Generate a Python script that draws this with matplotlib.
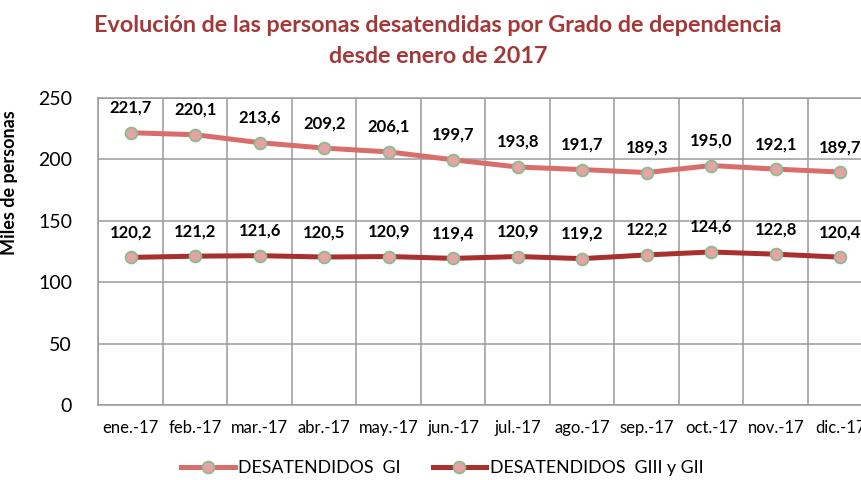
import matplotlib.pyplot as plt

plt.rcParams['font.family'] = ['Lato', 'DejaVu Sans']

meses = ['ene.-17', 'feb.-17', 'mar.-17', 'abr.-17', 'may.-17', 'jun.-17',
         'jul.-17', 'ago.-17', 'sep.-17', 'oct.-17', 'nov.-17', 'dic.-17']
gi = [221.7, 220.1, 213.6, 209.2, 206.1, 199.7, 193.8, 191.7, 189.3, 195.0, 192.1, 189.7]
giii_gii = [120.2, 121.2, 121.6, 120.5, 120.9, 119.4, 120.9, 119.2, 122.2, 124.6, 122.8, 120.4]

fig = plt.figure(figsize=(8.62, 4.80), dpi=100)
ax = fig.add_axes([98.5 / 862, 1 - 405 / 480, 774 / 862, 307 / 480])

x = range(len(meses))
mk = dict(marker='o', markersize=8.5, markerfacecolor='#E6A3A3',
          markeredgecolor='#8DBB8D', markeredgewidth=1.3)
ax.plot(x, gi, color='#D86E6C', lw=3.6, label='DESATENDIDOS  GI', **mk)
ax.plot(x, giii_gii, color='#A8302F', lw=3.6, label='DESATENDIDOS  GIII y GII', **mk)

for serie in (gi, giii_gii):
    for i, v in enumerate(serie):
        ax.annotate(f'{v:.1f}'.replace('.', ','), (i, v), xytext=(0, 18),
                    textcoords='offset points', ha='center', va='center',
                    fontsize=12, fontweight='bold', color='black')

ax.set_xlim(-0.5, 11.5)
ax.set_ylim(0, 250)
ax.set_yticks(range(0, 251, 50))
ax.set_xticks(x)
ax.set_xticklabels(meses)
ax.set_xticks([i + 0.5 for i in range(-1, 12)], minor=True)
ax.grid(True, which='minor', axis='x', color='#9A9A9A', lw=1.1)
ax.grid(True, which='major', axis='y', color='#9A9A9A', lw=1.1)
ax.tick_params(which='both', length=0)
ax.tick_params(axis='y', pad=19, labelsize=14)
ax.tick_params(axis='x', pad=11, labelsize=12)
for s in ax.spines.values():
    s.set_color('#9A9A9A')
    s.set_linewidth(1.1)

ax.set_ylabel('Miles de personas', fontsize=13, fontweight='bold')
ax.yaxis.set_label_coords(-0.104, 0.725)

fig.text(0.508, 0.915, 'Evolución de las personas desatendidas por Grado de dependencia\ndesde enero de 2017',
         ha='center', va='center', fontsize=16.8, fontweight='bold', color='#A33838',
         linespacing=1.6)

fig.legend(loc='center', bbox_to_anchor=(0.513, 0.025), ncol=2, frameon=False,
           fontsize=12.8, handlelength=3.0, columnspacing=1.8, handletextpad=0.2)

fig.savefig('out.png', dpi=100)
